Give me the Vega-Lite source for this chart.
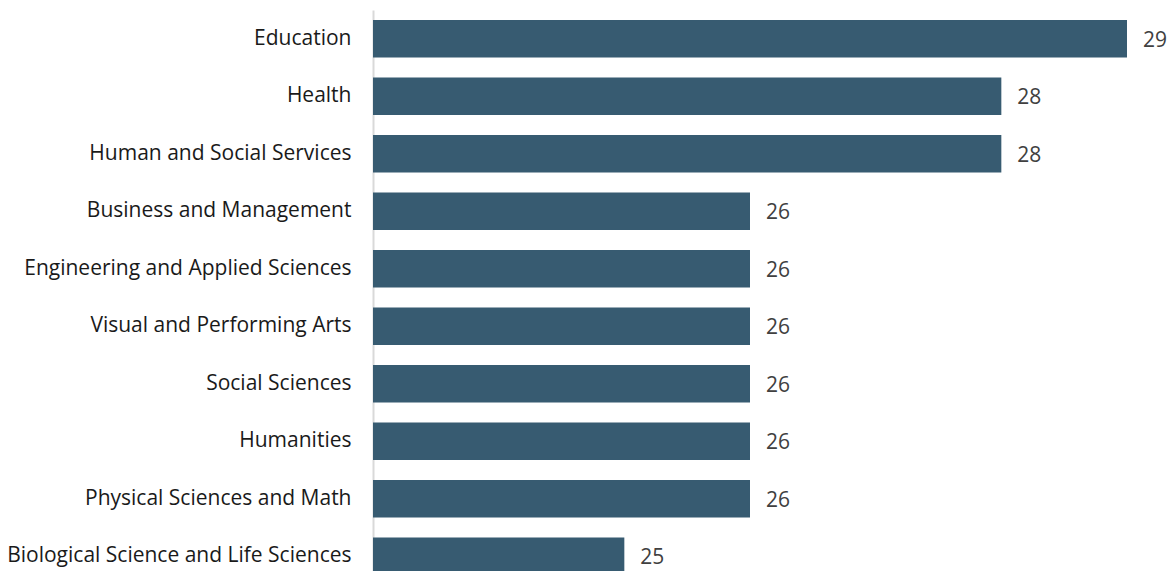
{
  "$schema": "https://vega.github.io/schema/vega-lite/v6.json",
  "width": 754,
  "height": 575,
  "autosize": {"type": "none"},
  "padding": {"left": 373, "top": 10, "right": 50, "bottom": 0},
  "background": "white",
  "config": {"view": {"stroke": null}},
  "data": {"values": [
    {"field": "Education", "value": 29},
    {"field": "Health", "value": 28},
    {"field": "Human and Social Services", "value": 28},
    {"field": "Business and Management", "value": 26},
    {"field": "Engineering and Applied Sciences", "value": 26},
    {"field": "Visual and Performing Arts", "value": 26},
    {"field": "Social Sciences", "value": 26},
    {"field": "Humanities", "value": 26},
    {"field": "Physical Sciences and Math", "value": 26},
    {"field": "Biological Science and Life Sciences", "value": 25}
  ]},
  "encoding": {
    "y": {"field": "field", "type": "nominal", "sort": null,
      "scale": {"paddingInner": 0.35, "paddingOuter": 0.174},
      "axis": {"title": null, "ticks": false, "labelPadding": 22, "labelFont": "Open Sans", "labelFontSize": 21,
        "labelColor": "#1a1a1a", "domainColor": "#d9d9d9", "domainWidth": 2, "labelLimit": 400}},
    "x": {"field": "value", "type": "quantitative", "scale": {"domain": [23, 29], "zero": false, "nice": false}, "axis": null}
  },
  "layer": [
    {"mark": {"type": "bar", "color": "#375b71", "clip": true}},
    {"mark": {"type": "text", "align": "left", "dx": 16, "dy": 2, "font": "Open Sans", "fontSize": 21, "color": "#404040"},
     "encoding": {"text": {"field": "value", "type": "quantitative"}}}
  ]
}
